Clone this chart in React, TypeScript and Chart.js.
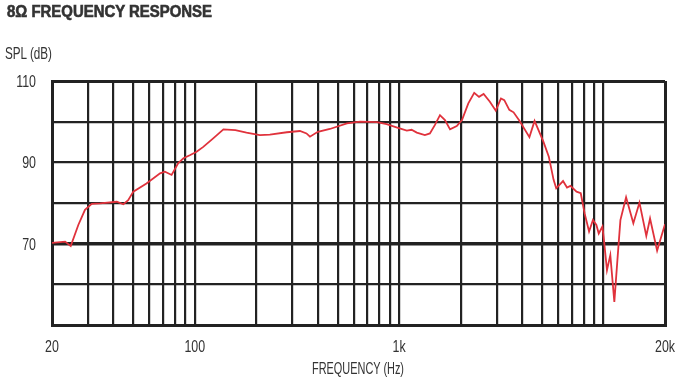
import React, { useEffect, useLayoutEffect, useRef } from 'react';
import { Chart, registerables } from 'chart.js';

Chart.register(...registerables);

// ---- data ----
const freqHz = [
  20, 23.2, 24.7, 26.9, 29, 31.3, 34.4, 41.5, 44.7, 47.2, 50, 58, 67.6, 71.4, 77, 83, 88, 95,
  102, 110, 123, 138, 158, 179, 208, 233, 282, 327, 352, 366, 400, 458, 555, 644, 778, 868, 970,
  1090, 1150, 1220, 1336, 1414, 1497, 1584, 1676, 1774, 1914, 2030, 2180, 2330, 2460, 2590, 2780,
  2970, 3150, 3270, 3460, 3630, 3880, 4340, 4600, 5080, 5400, 5700, 5870, 6340, 6630, 6890, 7380,
  7740, 8080, 8500, 8880, 9230, 9480, 9880, 10070, 10400, 10800, 11300, 11700, 12100, 12900,
  14000, 15000, 16200, 16900, 18300, 20000,
];
const splDb = [
  70.2, 70.5, 69.4, 74.6, 78.3, 79.8, 79.9, 80.3, 79.7, 80.7, 82.8, 84.8, 87.3, 87.7, 86.9, 89.8, 91, 91.8,
  92.6, 93.8, 95.9, 98.1, 97.9, 97.3, 96.7, 96.8, 97.4, 97.7, 97.1, 96.3, 97.5, 98.2, 99.6, 100, 99.9, 99.4, 98.6,
  97.8, 98, 97.3, 96.7, 97.1, 99.2, 101.6, 100.4, 98.1, 98.9, 100.4, 104.5, 107.1, 106.1, 106.8, 104.9,
  102.7, 105.7, 105.3, 102.9, 102.3, 100.2, 96.2, 100.2, 95.1, 91.4, 85.7, 83.6, 85.4, 83.8, 84.2, 82.8,
  82.4, 77.5, 73, 75.8, 74.6, 72.5, 74.2, 70.5, 63.5, 67.2, 55.7, 66, 75.8, 81.4,
  75, 80.1, 71.9, 76.2, 68.3, 74.8,
];

const gridFreqs = [
  20, 30, 40, 50, 60, 70, 80, 90, 100, 200, 300, 400, 500, 600, 700, 800, 900, 1000,
  2000, 3000, 4000, 5000, 6000, 7000, 8000, 9000, 10000, 20000,
];
const xTickValues = [20, 100, 1000, 20000];
const xTickLabels = ['20', '100', '1k', '20k'];
const yMin = 50;
const yMax = 110;
const yStep = 10;
const yTickValues = [70, 90, 110];
const yTickLabels = ['70', '90', '110'];

const TITLE = '8\u03A9 FREQUENCY RESPONSE';
const Y_TITLE = 'SPL (dB)';
const X_TITLE = 'FREQUENCY (Hz)';

const NARROW = "'Liberation Sans Narrow', 'Liberation Sans', Arial, sans-serif";
const BOLD = "'Liberation Sans', Arial, sans-serif";
const TEXT = '#333333';
const GRID = '#222222';
const RED = '#e0323c';

type FitProps = {
  text: string;
  left: number;
  top: number;
  width: number;
  size: number;
  weight?: number;
  family: string;
  align?: 'left' | 'center';
  stroke?: number;
};

function FitText({ text, left, top, width, size, weight = 400, family, align = 'left', stroke = 0 }: FitProps) {
  const ref = useRef<HTMLSpanElement>(null);
  useLayoutEffect(() => {
    const el = ref.current;
    if (!el) return;
    el.style.transform = 'none';
    const w = el.getBoundingClientRect().width;
    if (w > 0) el.style.transform = `scaleX(${width / w})`;
  }, [text, width]);
  const x = align === 'center' ? left - width / 2 : left;
  return (
    <span
      ref={ref}
      style={{
        position: 'absolute',
        left: x,
        top,
        whiteSpace: 'nowrap',
        fontFamily: family,
        fontSize: size,
        fontWeight: weight,
        lineHeight: `${size}px`,
        color: TEXT,
        transformOrigin: '0 0',
        display: 'inline-block',
        WebkitTextStroke: stroke ? `${stroke}px ${TEXT}` : undefined,
      }}
    >
      {text}
    </span>
  );
}

// Draws condensed tick labels at the positions given by the chart's own scales.
const condensedTicks = {
  id: 'condensedTicks',
  afterDraw(chart: any) {
    const ctx = chart.ctx as CanvasRenderingContext2D;
    const xs = chart.scales.x;
    const ys = chart.scales.y;
    const sx = 0.73;
    ctx.save();
    ctx.fillStyle = TEXT;
    ctx.font = `17px ${NARROW}`;
    ctx.textBaseline = 'alphabetic';
    ctx.textAlign = 'center';
    xTickValues.forEach((v, i) => {
      const px = xs.getPixelForValue(v);
      ctx.save();
      ctx.translate(px, xs.top + 26.5);
      ctx.scale(sx, 1);
      ctx.fillText(xTickLabels[i], 0, 0);
      ctx.restore();
    });
    ctx.textAlign = 'right';
    yTickValues.forEach((v, i) => {
      const py = ys.getPixelForValue(v);
      ctx.save();
      ctx.translate(ys.right - 16, py + 6.1);
      ctx.scale(sx, 1);
      ctx.fillText(yTickLabels[i], 0, 0);
      ctx.restore();
    });
    ctx.restore();
  },
};

export default function App() {
  const canvasRef = useRef<HTMLCanvasElement>(null);

  useEffect(() => {
    const canvas = canvasRef.current;
    if (!canvas) return;
    const points = freqHz.map((f, i) => ({ x: f, y: splDb[i] }));
    const edgeX = (v: number) => v === gridFreqs[0] || v === gridFreqs[gridFreqs.length - 1];
    const chart = new Chart(canvas, {
      type: 'line',
      data: {
        datasets: [
          {
            data: points,
            borderColor: RED,
            borderWidth: 1.8,
            pointRadius: 0,
            tension: 0,
            fill: false,
          },
        ],
      },
      options: {
        animation: false,
        responsive: false,
        maintainAspectRatio: false,
        devicePixelRatio: 1,
        parsing: false as any,
        layout: { padding: { left: 0, right: 16, top: 81, bottom: 0 } },
        plugins: { legend: { display: false }, tooltip: { enabled: false }, title: { display: false } },
        scales: {
          x: {
            type: 'logarithmic',
            min: gridFreqs[0],
            max: gridFreqs[gridFreqs.length - 1],
            afterBuildTicks: (s: any) => {
              s.ticks = gridFreqs.map((v) => ({ value: v }));
            },
            afterFit: (s: any) => {
              s.height = 54;
              s.paddingLeft = 0;
              s.paddingRight = 0;
            },
            ticks: { display: false },
            grid: {
              color: GRID,
              lineWidth: (ctx: any) => (edgeX(ctx.tick?.value) ? 3 : 2.2),
              drawTicks: false,
            },
            border: { color: GRID, width: 3 },
          },
          y: {
            type: 'linear',
            min: yMin,
            max: yMax,
            afterFit: (s: any) => {
              s.width = 52;
              s.paddingTop = 0;
              s.paddingBottom = 0;
            },
            ticks: { stepSize: yStep, display: false },
            grid: {
              color: GRID,
              lineWidth: (ctx: any) => {
                const v = ctx.tick?.value;
                if (v === 70) return 3.5;
                if (v === yMin || v === yMax) return 3;
                return 2.2;
              },
              drawTicks: false,
            },
            border: { color: GRID, width: 3 },
          },
        },
      } as any,
      plugins: [condensedTicks],
    });
    return () => chart.destroy();
  }, []);

  return (
    <div style={{ position: 'fixed', left: 0, top: 0, width: 681, height: 379, background: '#ffffff' }}>
      <canvas ref={canvasRef} width={681} height={379} style={{ position: 'absolute', left: 0, top: 0, width: 681, height: 379 }} />
      <FitText text={TITLE} left={7} top={4} width={205} size={16} weight={700} family={BOLD} stroke={0.6} />
      <FitText text={Y_TITLE} left={5} top={45} width={47} size={17} family={NARROW} />
      <FitText text={X_TITLE} left={358} top={360} width={92} size={17} family={NARROW} align="center" />
    </div>
  );
}
